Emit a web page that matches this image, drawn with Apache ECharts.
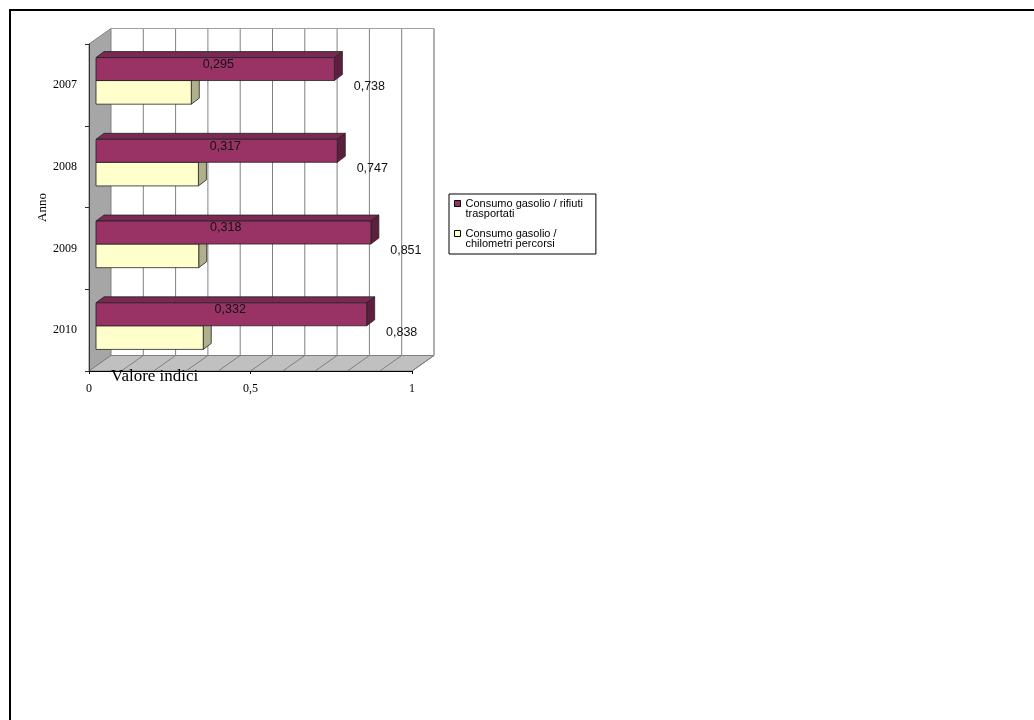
<!DOCTYPE html>
<html><head><meta charset="utf-8">
<script src="https://cdn.jsdelivr.net/npm/echarts@6/dist/echarts.min.js"></script>
<style>html,body{margin:0;padding:0;background:#fff}#c{width:1034px;height:720px}</style>
</head><body><div id="c"></div>
<script>
const years = ['2007', '2008', '2009', '2010'];
const rifiutiTrasportati = [0.738, 0.747, 0.851, 0.838];
const chilometriPercorsi = [0.295, 0.317, 0.318, 0.332];
const xTickValues = [0, 0.5, 1];
const gridValues = [0.1, 0.2, 0.3, 0.4, 0.5, 0.6, 0.7, 0.8, 0.9, 1.0];
const nameRifiuti = 'Consumo gasolio / rifiuti trasportati';
const nameChilometri = 'Consumo gasolio / chilometri percorsi';
const legendWrapped = {};
legendWrapped[nameRifiuti] = 'Consumo gasolio / rifiuti\ntrasportati';
legendWrapped[nameChilometri] = 'Consumo gasolio /\nchilometri percorsi';

const DX = 22, DY = -15.5;     // wall depth
const BDX = 8, BDY = -6;       // bar depth
const BAR_SHIFT = 7;
const SERIF = '"Liberation Serif", "Times New Roman", serif';
const SANS = '"Liberation Sans", Arial, sans-serif';
const LEGEND_ICON = 'path://M0,0L6,0L6,6L0,6Z M0,16L0,16';

function fmt(v) { return String(v).replace('.', ','); }

function wallsRender(params, api) {
  const cs = params.coordSys;
  const x = cs.x, y = cs.y, w = cs.width, h = cs.height, yb = y + h;
  const ch = [];
  ch.push({type: 'polygon', shape: {points: [[x + DX, y + DY], [x + w + DX, y + DY], [x + w + DX, yb + DY], [x + DX, yb + DY]]},
    style: {fill: '#ffffff', stroke: null}});
  ch.push({type: 'polygon', shape: {points: [[x, y], [x + DX, y + DY], [x + DX, yb + DY], [x, yb]]},
    style: {fill: '#a6a6a6', stroke: '#808080', lineWidth: 1}});
  ch.push({type: 'polygon', shape: {points: [[x, yb], [x + DX, yb + DY], [x + w + DX, yb + DY], [x + w, yb]]},
    style: {fill: '#c0c0c0', stroke: '#808080', lineWidth: 1}});
  gridValues.forEach(function (v) {
    const px = api.coord([v, 0])[0];
    ch.push({type: 'line', shape: {x1: px + DX, y1: y + DY, x2: px + DX, y2: yb + DY}, style: {stroke: '#808080', lineWidth: 1}});
    ch.push({type: 'line', shape: {x1: px + DX, y1: yb + DY, x2: px, y2: yb}, style: {stroke: '#808080', lineWidth: 1}});
  });
  ch.push({type: 'polyline', shape: {points: [[x + DX, y + DY], [x + w + DX, y + DY], [x + w + DX, yb + DY]]},
    style: {stroke: '#a0a0a0', lineWidth: 1, fill: null}});
  return {type: 'group', children: ch};
}

function barRender(kind) {
  return function (params, api) {
    const v = api.value(0), idx = api.value(1);
    const s = api.coord([0, idx]), e = api.coord([v, idx]);
    const bw = api.size([0, 1])[1];
    const cy = s[1];
    const x0 = s[0] + BAR_SHIFT, x1 = e[0] + BAR_SHIFT;
    let yT, yB, col, lx, ly;
    if (kind === 'r') {
      yT = cy - 0.334 * bw; yB = cy - 0.053 * bw;
      col = {front: '#993366', top: '#7a2952', side: '#5e1f3f'};
      lx = x1 + 35; ly = cy + 0.025 * bw;
    } else {
      yT = cy - 0.053 * bw; yB = cy + 0.236 * bw;
      col = {front: '#ffffcc', top: '#e6e6b8', side: '#b0b08c'};
      lx = x1 + 27; ly = cy - 0.25 * bw;
    }
    const line = {stroke: '#222', lineWidth: 0.8};
    return {type: 'group', children: [
      {type: 'polygon', shape: {points: [[x0, yT], [x0 + BDX, yT + BDY], [x1 + BDX, yT + BDY], [x1, yT]]},
        style: Object.assign({fill: col.top}, line)},
      {type: 'polygon', shape: {points: [[x1, yT], [x1 + BDX, yT + BDY], [x1 + BDX, yB + BDY], [x1, yB]]},
        style: Object.assign({fill: col.side}, line)},
      {type: 'rect', shape: {x: x0, y: yT, width: x1 - x0, height: yB - yT},
        style: Object.assign({fill: col.front}, line)},
      {type: 'text', x: lx, y: ly, z2: 100,
        style: {text: fmt(v), fill: '#111', font: '12.5px ' + SANS, align: 'center', verticalAlign: 'middle'}}
    ]};
  };
}

const chart = echarts.init(document.getElementById('c'));
chart.setOption({
  animation: false,
  backgroundColor: '#ffffff',
  grid: {left: 89, top: 44, width: 323, height: 327, containLabel: false},
  xAxis: {
    type: 'value', min: 0, max: 1, interval: 0.5, z: 5,
    axisLine: {show: true, lineStyle: {color: '#000', width: 1}},
    axisTick: {show: true, length: 3, lineStyle: {color: '#000'}},
    splitLine: {show: false},
    axisLabel: {margin: 12, fontFamily: SERIF, fontSize: 12, color: '#000',
      formatter: function (v) { return xTickValues.indexOf(v) >= 0 ? fmt(v) : ''; }}
  },
  yAxis: {
    type: 'category', data: years, inverse: true, z: 5,
    name: 'Anno', nameLocation: 'middle', nameGap: 38, nameRotate: 90,
    nameTextStyle: {fontFamily: SERIF, fontSize: 13, color: '#000'},
    axisLine: {show: true, lineStyle: {color: '#333', width: 1}},
    axisTick: {show: true, length: 4, lineStyle: {color: '#333'}},
    axisLabel: {margin: 12, fontFamily: SERIF, fontSize: 12, color: '#000'}
  },
  legend: {
    orient: 'vertical', left: 449, top: 194,
    data: [{name: nameRifiuti, icon: LEGEND_ICON}, {name: nameChilometri, icon: LEGEND_ICON}],
    itemWidth: 6, itemHeight: 16, itemGap: 9,
    borderColor: '#000', borderWidth: 1, padding: [4, 13, 5, 5],
    formatter: function (n) { return legendWrapped[n]; },
    textStyle: {fontFamily: SANS, fontSize: 11, lineHeight: 10, color: '#000'},
    itemStyle: {borderColor: '#000', borderWidth: 1}
  },
  graphic: [
    {type: 'rect', shape: {x: 10, y: 10, width: 1200, height: 900}, style: {fill: null, stroke: '#000', lineWidth: 2}, z: 100},
    {type: 'text', left: 111, top: 368, z: 100, style: {text: 'Valore indici', font: '17px ' + SERIF, fill: '#000'}}
  ],
  series: [
    {type: 'custom', name: 'walls', z: 1, silent: true, clip: false, renderItem: wallsRender, data: [[0, 0]]},
    {type: 'custom', name: nameChilometri, z: 2, clip: false, renderItem: barRender('c'),
      itemStyle: {color: '#ffffcc', borderColor: '#000', borderWidth: 1},
      encode: {x: 0, y: 1}, data: chilometriPercorsi.map(function (v, i) { return [v, i]; })},
    {type: 'custom', name: nameRifiuti, z: 2, clip: false, renderItem: barRender('r'),
      itemStyle: {color: '#993366', borderColor: '#000', borderWidth: 1},
      encode: {x: 0, y: 1}, data: rifiutiTrasportati.map(function (v, i) { return [v, i]; })}
  ]
});
</script></body></html>
